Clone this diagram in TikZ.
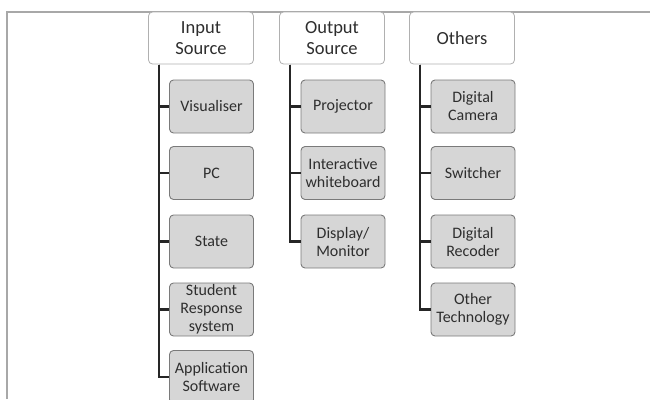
\documentclass[tikz,border=0pt]{standalone}
\usepackage{fontspec}
\setmainfont{Carlito}
\definecolor{txt}{HTML}{2E2E2E}
\definecolor{cfill}{HTML}{D6D6D6}
\definecolor{cdraw}{HTML}{7A7A7A}
\definecolor{hdraw}{HTML}{B0B0B0}
\definecolor{frame}{HTML}{A8A8A8}
\begin{document}
\begin{tikzpicture}[x=1pt,y=-1pt,
  head/.style={draw=hdraw,line width=0.8pt,fill=white,rounded corners=4pt,
    minimum width=105pt,minimum height=52pt,align=center,text=txt,
    font=\fontsize{18.5}{21.5}\selectfont,inner sep=1pt},
  child/.style={draw=cdraw,line width=0.9pt,fill=cfill,rounded corners=4pt,
    minimum width=84pt,minimum height=53pt,align=center,text=txt,
    font=\fontsize{16}{18}\selectfont,inner sep=1pt},
  conn/.style={line width=2.5pt,black!85}]
\useasboundingbox (0,0) rectangle (650,399);
\draw[frame,line width=1.5pt] (7,399) -- (7,12) -- (650,12);
% headers
\node[head] (ins) at (201,38) {Input\\Source};
\node[head] (outs) at (332,38) {Output\\Source};
\node[head] (oth) at (462,38) {Others};
% input children
\node[child] (vis) at (211.5,106.5) {Visualiser};
\node[child] (pc) at (211.5,173) {PC};
\node[child] (state) at (211.5,241.5) {State};
\node[child] (srs) at (211.5,309.5) {Student\\Response\\system};
\node[child] (app) at (211.5,377) {Application\\Software};
% output children
\node[child] (proj) at (343,106.5) {Projector};
\node[child] (iwb) at (343,173) {Interactive\\whiteboard};
\node[child] (disp) at (343,241.5) {Display/\\Monitor};
% others children
\node[child] (cam) at (473,106.5) {Digital\\Camera};
\node[child] (sw) at (473,173) {Switcher};
\node[child] (rec) at (473,241.5) {Digital\\Recoder};
\node[child] (tech) at (473,309.5) {Other\\Technology};
% connectors
\coordinate (inb) at (159,64.5);
\coordinate (outb) at (290,64.5);
\coordinate (othb) at (420,64.5);
\foreach \c in {vis,pc,state,srs,app}{\draw[conn] (inb) |- (\c.west);}
\foreach \c in {proj,iwb,disp}{\draw[conn] (outb) |- (\c.west);}
\foreach \c in {cam,sw,rec,tech}{\draw[conn] (othb) |- (\c.west);}
\end{tikzpicture}
\end{document}
